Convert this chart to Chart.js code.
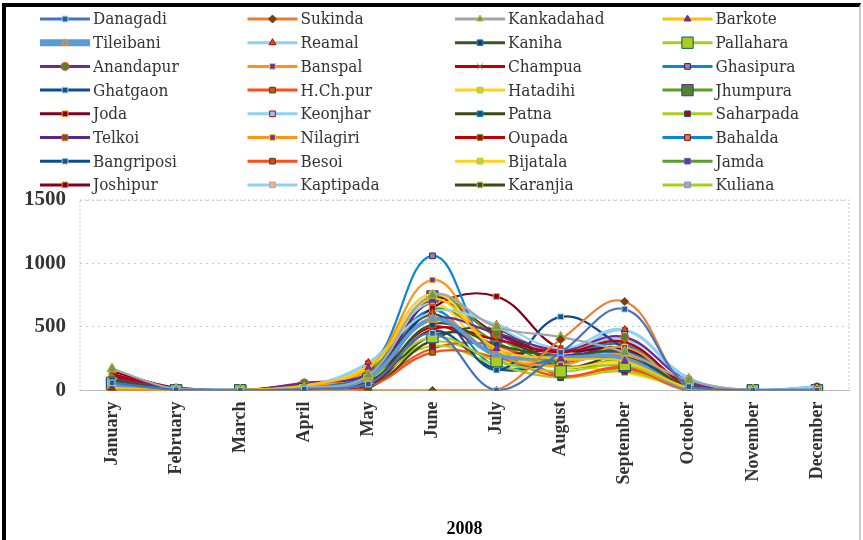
<!DOCTYPE html>
<html><head><meta charset="utf-8">
<script src="https://cdn.jsdelivr.net/npm/chart.js@4.4.0/dist/chart.umd.min.js"></script>
<style>
body{margin:0;background:#fff;overflow:hidden;}
#frame{position:absolute;left:2px;top:3px;width:853px;height:533px;border:4px solid #000;border-right:2px solid #ccc;}
#wrap{position:absolute;left:6px;top:7px;width:852px;height:537px;}
</style></head><body>
<div id="frame"></div>
<div id="wrap"><canvas id="c"></canvas></div>
<script>
const months = ["January","February","March","April","May","June","July","August","September","October","November","December"];
const names = ["Danagadi","Sukinda","Kankadahad","Barkote","Tileibani","Reamal","Kaniha","Pallahara",
"Anandapur","Banspal","Champua","Ghasipura","Ghatgaon","H.Ch.pur","Hatadihi","Jhumpura",
"Joda","Keonjhar","Patna","Saharpada","Telkoi","Nilagiri","Oupada","Bahalda",
"Bangriposi","Besoi","Bijatala","Jamda","Joshipur","Kaptipada","Karanjia","Kuliana"];
const lineColors = ["#4472c4","#ed7d31","#a5a5a5","#ffc000","#5b9bd5","#8fd0f5","#375623","#a9d018",
"#6a2c91","#ff9410","#c00000","#0a88d8","#0b4d8f","#ff4d1a","#ffd320","#5b9d2a",
"#800020","#8fd0f5","#3b4a14","#a9d018","#5a2a8a","#ff9410","#c00000","#0a88d8",
"#0b4d8f","#ff4d1a","#ffd320","#5b9d2a","#800020","#8fd0f5","#3b4a14","#a9d018"];
const markerColors = ["#2f5597","#843c0c","#7f8f60","#7030a0","#5b9bd5","#c55a11","#1f3864","#a9d018",
"#548235","#7030a0","#c00000","#5b9bd5","#1f4e79","#c55a11","#c9d040","#548235",
"#800020","#9dc3e6","#1f4e79","#c00000","#4f6228","#7030a0","#c00000","#ed7d31",
"#1f4e79","#e04030","#c9d040","#7030a0","#800020","#f4b183","#1f4e79","#d99694"];
const jan = [60,0,170,20,40,10,80,60,90,20,130,40,70,10,20,50,150,30,60,10,100,30,120,20,80,10,40,30,110,20,60,0];
const feb = [5,0,10,0,5,0,10,0,20,0,10,5,0,0,5,0,20,10,0,5,0,10,0,5,0,0,10,0,5,0,0,0];
const mar = [0,0,0,5,0,0,0,0,0,5,0,0,0,0,0,0,0,0,5,0,0,0,0,0,0,0,0,0,0,5,0,0];
const apr = [10,0,20,40,10,30,20,10,60,30,10,20,40,10,30,20,50,30,10,20,40,10,30,20,10,20,30,10,40,20,10,30];
const may = [50,0,120,180,100,220,60,90,130,170,40,150,110,30,200,140,60,210,20,80,90,160,70,120,30,50,190,100,10,210,40,80];
const jun = [450,0,750,720,560,620,520,420,560,870,480,1060,600,300,760,740,650,700,400,350,700,590,500,630,470,330,680,640,720,760,430,380];
const jul = [0,0,500,330,280,520,360,230,450,300,400,250,160,260,320,420,740,500,480,200,440,280,300,190,170,350,250,380,450,300,400,260];
const aug = [300,400,420,250,260,330,270,150,320,200,300,240,580,110,180,200,330,290,190,100,280,230,320,260,220,120,200,180,300,300,240,250];
const sep = [640,700,300,230,250,480,300,200,420,340,380,300,330,180,220,190,330,470,260,150,320,280,280,360,250,170,140,230,360,400,270,310];
const oct = [30,20,80,20,10,100,30,10,70,20,40,60,10,0,20,30,50,80,20,10,40,30,60,20,10,0,30,20,50,90,10,30];
const nov = Array(32).fill(0);
const dec = [0,0,0,0,0,30,0,0,0,0,0,30,0,0,0,0,0,0,0,0,0,0,0,0,0,0,0,0,0,0,0,0];
const yTicks = [0,500,1000,1500];

const cols = [jan,feb,mar,apr,may,jun,jul,aug,sep,oct,nov,dec];
const styles = {"Sukinda":"rectRot","Kankadahad":"triangle","Barkote":"triangle","Tileibani":"triangle","Reamal":"triangle","Anandapur":"circle","Champua":"crossRot"};
const serif = "'Liberation Serif','Times New Roman',serif";

const datasets = names.map((n,i)=>({
  label:n,
  data:cols.map(c=>c[i]),
  borderColor:lineColors[i],
  backgroundColor:markerColors[i],
  pointBorderColor:lineColors[(i+5)%32],
  pointBorderWidth:1,
  pointStyle:styles[n]||"rect",
  pointRadius:(n==="Pallahara"||n==="Jhumpura")?8:(n==="Tileibani"||n==="Kankadahad")?6:4,
  borderWidth:n==="Tileibani"?4:2.2,
  tension:0.4
}));

// legend drawn on the canvas, 4 columns x 8 rows
const legendPlugin = {id:"grid-legend",afterDraw(ch){
  const x = ch.ctx;
  x.save();
  x.font = "17px 'DejaVu Serif Condensed','DejaVu Serif',serif";
  x.textBaseline = "middle";
  ch.data.datasets.forEach((d,i)=>{
    const cx = 34 + (i%4)*207.5, cy = 12 + Math.floor(i/4)*23.7;
    x.strokeStyle = d.borderColor; x.lineWidth = d.borderWidth===4?7:3;
    x.beginPath(); x.moveTo(cx,cy); x.lineTo(cx+50,cy); x.stroke();
    x.fillStyle = d.backgroundColor; x.strokeStyle = d.pointBorderColor; x.lineWidth = 1;
    Chart.helpers.drawPoint(x,{pointStyle:d.pointStyle,radius:d.pointRadius===8?8:4,rotation:0,borderWidth:1},cx+25,cy);
    x.fillStyle = "#333";
    x.fillText(d.label,cx+53,cy+1);
  });
  x.restore();
}};

new Chart(document.getElementById("c"),{
  type:"line",
  data:{labels:months,datasets},
  options:{
    responsive:true,maintainAspectRatio:false,animation:false,
    layout:{padding:{right:8,top:193,left:4}},
    plugins:{legend:{display:false},tooltip:{enabled:false}},
    scales:{
      y:{min:0,max:1500,afterBuildTicks:a=>{a.ticks=yTicks.map(v=>({value:v}));},
        ticks:{font:{family:serif,size:21,weight:"bold"},color:"#333",padding:14,callback:v=>String(v)},
        grid:{color:"#ccc",drawTicks:false},border:{display:false,dash:[2,4]}},
      x:{offset:true,ticks:{minRotation:90,maxRotation:90,font:{family:serif,size:18,weight:"bold"},color:"#333"},
        grid:{display:false},border:{color:"#bbb"},
        title:{display:true,text:"2008",font:{family:serif,size:18,weight:"bold"},color:"#000",padding:{top:31}}}
    }
  },
  plugins:[legendPlugin,{id:"box",beforeDraw(ch){const a=ch.chartArea,x=ch.ctx;x.save();x.strokeStyle="#ccc";x.setLineDash([2,2]);x.strokeRect(a.left,a.top,a.right-a.left,a.bottom-a.top);x.restore();}}]
});
</script></body></html>
